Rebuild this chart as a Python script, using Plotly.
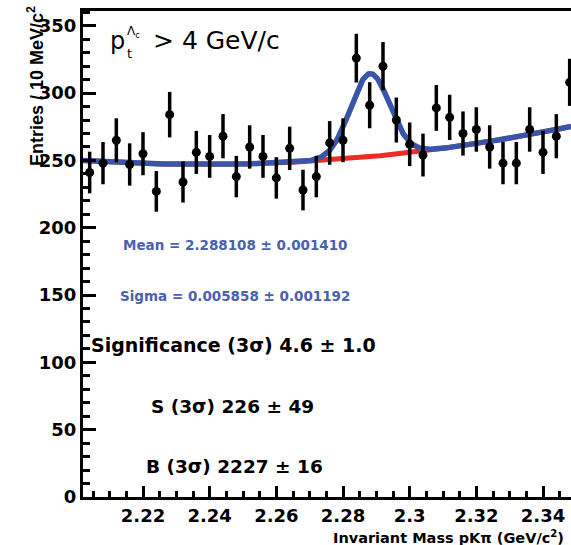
import numpy as np
import plotly.graph_objects as go

# Histogram binning of the pKπ invariant-mass spectrum (GeV/c^2)
BIN_LO = 2.202
BIN_W = 0.004

# Entries per bin and their statistical errors
counts = [241, 248, 265, 247, 255, 227, 284, 234, 256, 253, 268, 238, 260,
          253, 237, 259, 228, 238, 263, 265, 326, 291, 320, 280, 262, 254,
          289, 282, 270, 273, 260, 248, 248, 273, 256, 268, 308]
count_err = [15.5, 15.7, 16.3, 15.7, 16.0, 15.1, 16.9, 15.3, 16.0, 15.9,
             16.4, 15.4, 16.1, 15.9, 15.4, 16.1, 15.1, 15.4, 16.2, 16.3,
             18.1, 17.1, 17.9, 16.7, 16.2, 15.9, 17.0, 16.8, 16.4, 16.5,
             16.1, 15.7, 15.7, 16.5, 16.0, 16.4, 17.5]

# Fit results: Gaussian signal on a 2nd-order polynomial background
MEAN = 2.288108
MEAN_ERR = 0.001410
SIGMA = 0.005858
SIGMA_ERR = 0.001192
S_3SIG, S_3SIG_ERR = 226, 49
B_3SIG, B_3SIG_ERR = 2227, 16
SIGNIF, SIGNIF_ERR = 4.6, 1.0
BKG_X0 = 2.25
BKG_COEF = [247.3, 55.0, 2326.6]

X_RANGE = [2.202, 2.3484]
Y_RANGE = [0, 361]
x_tickvals = [2.22, 2.24, 2.26, 2.28, 2.30, 2.32, 2.34]
x_ticktext = ["2.22", "2.24", "2.26", "2.28", "2.3", "2.32", "2.34"]
y_tickvals = [0, 50, 100, 150, 200, 250, 300, 350]

BLUE = "#3a55a8"
RED = "#ef2b23"
TEXT_BLUE = "#4a60b0"

centers = BIN_LO + BIN_W * (np.arange(len(counts)) + 0.5)


def background(x):
    u = x - BKG_X0
    return BKG_COEF[0] + BKG_COEF[1] * u + BKG_COEF[2] * u ** 2


# Gaussian amplitude (entries/bin) from the signal yield inside +-3 sigma
amp = S_3SIG * BIN_W / (SIGMA * np.sqrt(2 * np.pi) * 0.9973)
xf = np.linspace(X_RANGE[0], X_RANGE[1], 600)
bkg = background(xf)
total = bkg + amp * np.exp(-0.5 * ((xf - MEAN) / SIGMA) ** 2)

fig = go.Figure()
fig.add_trace(go.Scatter(x=xf, y=bkg, mode="lines",
                         line=dict(color=RED, width=5), hoverinfo="skip"))
fig.add_trace(go.Scatter(x=xf, y=total, mode="lines",
                         line=dict(color=BLUE, width=5.5), hoverinfo="skip"))
fig.add_trace(go.Scatter(
    x=centers, y=counts, mode="markers",
    marker=dict(color="black", size=9, symbol="circle"),
    error_y=dict(type="data", array=count_err, color="black",
                 thickness=3.5, width=0),
))

# plot area in pixels: x 83..571, y 11..497
L, T, W, H = 83, 11, 488, 486


def px(xp):
    return (xp - L) / W


def py(yp):
    return (T + H - yp) / H


ann = []


def text(s, xp, yp, size, color="black", bold=True, xanchor="center",
         family="DejaVu Sans", angle=0, yanchor="middle"):
    ann.append(dict(text=s, x=px(xp), y=py(yp), xref="paper", yref="paper",
                    showarrow=False, xanchor=xanchor, yanchor=yanchor,
                    textangle=angle,
                    font=dict(family=family, size=size, color=color,
                              weight="bold" if bold else "normal")))


# kinematic selection label
text("p", 108, 41, 24, bold=False, xanchor="left")
text("t", 125, 54, 13, bold=False, xanchor="left")
text("Λ<sub>c</sub>", 125, 32, 12, bold=False, xanchor="left")
text("> 4 GeV/c", 151, 40, 25, bold=False, xanchor="left")

# fit summary
text(f"Mean = {MEAN:.6f} ± {MEAN_ERR:.6f}", 235, 245, 13.5, color=TEXT_BLUE)
text(f"Sigma = {SIGMA:.6f} ± {SIGMA_ERR:.6f}", 235, 296, 13.5,
     color=TEXT_BLUE)
text(f"Significance (3σ) {SIGNIF} ± {SIGNIF_ERR}", 233, 345, 19)
text(f"S (3σ) {S_3SIG} ± {S_3SIG_ERR}", 232, 406, 18.5)
text(f"B (3σ) {B_3SIG} ± {B_3SIG_ERR}", 234, 466, 18.5)

# axis titles
text("Invariant Mass pKπ (GeV/c<sup>2</sup>)", 566, 537, 14.5,
     xanchor="right")
text("Entries / 10 MeV/c<sup>2</sup>", 35, 4, 18, angle=-90,
     yanchor="top", family="Liberation Sans")

tickfont = dict(family="DejaVu Sans", size=18, color="black", weight="bold")
fig.update_layout(
    width=571, height=545,
    margin=dict(l=L, r=571 - L - W, t=T, b=545 - T - H, pad=0),
    paper_bgcolor="white", plot_bgcolor="white",
    showlegend=False,
    annotations=ann,
    xaxis=dict(range=X_RANGE, tickvals=x_tickvals, ticktext=x_ticktext,
               ticks="inside", ticklen=11, tickwidth=3, tickcolor="black",
               showline=True, linewidth=3, linecolor="black", mirror=True,
               showgrid=False, zeroline=False, tickfont=tickfont,
               minor=dict(dtick=0.005, ticks="inside", ticklen=6,
                          tickwidth=3, tickcolor="black", showgrid=False)),
    yaxis=dict(range=Y_RANGE, tickvals=y_tickvals,
               ticks="inside", ticklen=13, tickwidth=3, tickcolor="black",
               showline=True, linewidth=3, linecolor="black",
               showgrid=False, zeroline=False, tickfont=tickfont,
               minor=dict(dtick=10, ticks="inside", ticklen=7,
                          tickwidth=3, tickcolor="black", showgrid=False)),
)

fig.write_html("out.html")
